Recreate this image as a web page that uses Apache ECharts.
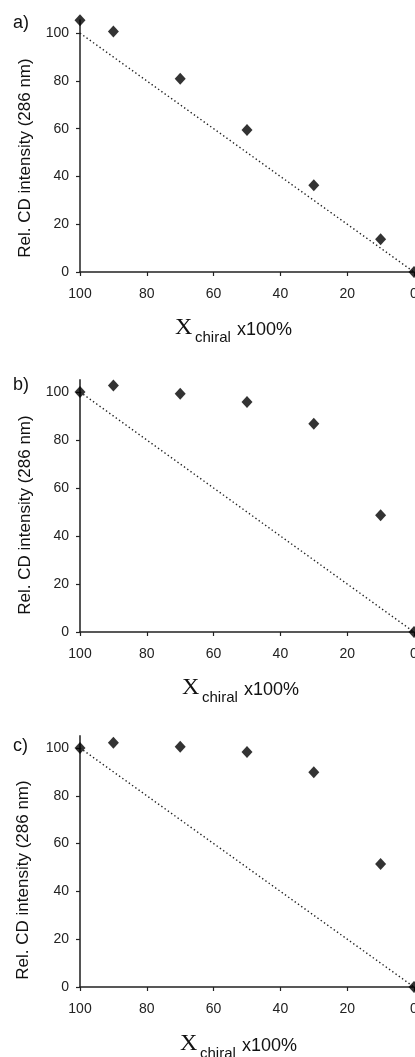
<!DOCTYPE html>
<html>
<head>
<meta charset="utf-8">
<script src="https://cdn.jsdelivr.net/npm/echarts@6/dist/echarts.min.js"></script>
<style>
  html, body { margin: 0; padding: 0; background: #fff; }
  #chart { width: 415px; height: 1057px; }
</style>
</head>
<body>
<div id="chart"></div>
<script>
// Mole fraction of the chiral component (x100%)
const xChiral = [100, 90, 70, 50, 30, 10, 0];
// Relative CD intensity at 286 nm for the three systems
const cdA = [105.4, 100.7, 80.9, 59.4, 36.3, 13.7, 0];
const cdB = [100, 102.7, 99.3, 95.8, 86.8, 48.6, 0];
const cdC = [100, 102.2, 100.5, 98.3, 89.8, 51.5, 0];
// Linear reference (ideal mixing)
const idealX = [100, 0];
const idealY = [100, 0];
// Tick labels
const xTicks = [100, 80, 60, 40, 20, 0];
const yTicks = [0, 20, 40, 60, 80, 100];
const panelLabels = ['a)', 'b)', 'c)'];
const yAxisTitle = 'Rel. CD intensity (286 nm)';

const series = [cdA, cdB, cdC];
const yMax = [105.5, 105, 105];
const grids = [
  { left: 80, right: 1, top: 20, height: 252, outerBoundsMode: 'none', containLabel: false },
  { left: 80, right: 1, top: 380, height: 252, outerBoundsMode: 'none', containLabel: false },
  { left: 80, right: 1, top: 736, height: 251, outerBoundsMode: 'none', containLabel: false }
];
const yLineStyle = [
  { color: '#222', width: 1.5 },
  { color: '#555', width: 2 },
  { color: '#555', width: 2 }
];
const labelFont = { fontFamily: 'Liberation Sans, Arial, sans-serif', fontSize: 14, color: '#222' };

const chart = echarts.init(document.getElementById('chart'), null, { renderer: 'canvas' });

const xAxes = [], yAxes = [], allSeries = [];
series.forEach((vals, i) => {
  xAxes.push({
    gridIndex: i, type: 'value', inverse: true, min: 0, max: 100, interval: 20,
    axisLine: { show: true, onZero: false, lineStyle: { color: '#222', width: 1.5 } },
    axisTick: { show: true, length: 4, inside: false, customValues: xTicks, lineStyle: { color: '#222', width: 1.2 } },
    axisLabel: { show: true, margin: 15, customValues: xTicks, hideOverlap: false, ...labelFont },
    splitLine: { show: false }
  });
  yAxes.push({
    gridIndex: i, type: 'value', min: 0, max: yMax[i], interval: 20,
    axisLine: { show: true, onZero: false, lineStyle: yLineStyle[i] },
    axisTick: { show: true, length: 4, inside: false, customValues: yTicks, lineStyle: { color: '#222', width: 1.2 } },
    axisLabel: { show: true, margin: 11, customValues: yTicks, ...labelFont },
    splitLine: { show: false }
  });
  allSeries.push({
    type: 'line', xAxisIndex: i, yAxisIndex: i,
    data: idealX.map((x, k) => [x, idealY[k]]),
    symbol: 'none', silent: true,
    lineStyle: { color: '#222', width: 1.4, type: [1.4, 2.6] },
    z: 2
  });
  allSeries.push({
    type: 'scatter', xAxisIndex: i, yAxisIndex: i,
    data: xChiral.map((x, k) => [x, vals[k]]),
    symbol: 'diamond', symbolSize: [11, 12], clip: false,
    itemStyle: { color: '#000' },
    z: 3
  });
});

// Axis titles (X with subscript "chiral") and panel letters
const titleBase = [336, 696, 1052];
const titleX = [175, 182, 180];
const yNameCenter = [[25, 158], [25, 515], [23, 880]];
const letterY = [23, 385, 746];
const graphics = [];
for (let i = 0; i < 3; i++) {
  const B = titleBase[i], L = titleX[i];
  graphics.push({
    type: 'text', x: L, y: B - 8,
    style: { text: 'X', align: 'left', verticalAlign: 'middle',
      font: '24px "Liberation Serif", "Times New Roman", serif', fill: '#111' }
  });
  graphics.push({
    type: 'text', x: L + 20, y: B + 2,
    style: { text: 'chiral', align: 'left', verticalAlign: 'middle',
      font: '15px "Liberation Sans", Arial, sans-serif', fill: '#111' }
  });
  graphics.push({
    type: 'text', x: L + 62, y: B - 6,
    style: { text: 'x100%', align: 'left', verticalAlign: 'middle',
      font: '18px "Liberation Sans", Arial, sans-serif', fill: '#111' }
  });
  graphics.push({
    type: 'text', x: yNameCenter[i][0], y: yNameCenter[i][1], rotation: Math.PI / 2,
    style: {
      text: yAxisTitle, align: 'center', verticalAlign: 'middle',
      font: '17px "Liberation Sans", Arial, sans-serif', fill: '#111'
    }
  });
  graphics.push({
    type: 'text', x: 13, y: letterY[i],
    style: {
      text: panelLabels[i], align: 'left', verticalAlign: 'middle',
      font: '18px "Liberation Sans", Arial, sans-serif', fill: '#111'
    }
  });
}

chart.setOption({
  animation: false,
  backgroundColor: '#fff',
  grid: grids,
  xAxis: xAxes,
  yAxis: yAxes,
  series: allSeries,
  graphic: graphics
});
</script>
</body>
</html>
